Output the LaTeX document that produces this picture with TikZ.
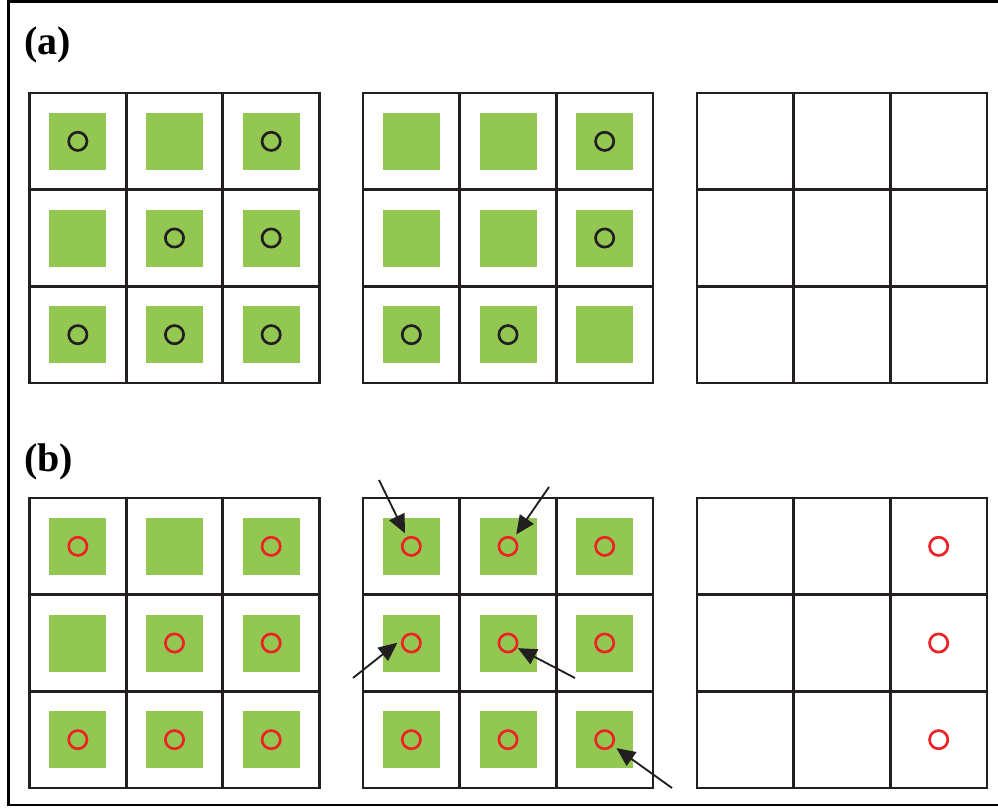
\documentclass[tikz,border=0pt]{standalone}
\usepackage{fontspec}
\setmainfont{Liberation Serif}
\usetikzlibrary{arrows.meta}
\definecolor{Leaf}{HTML}{92C852}
\definecolor{Mark}{HTML}{EC2227}
\definecolor{Ink}{HTML}{231F20}

\begin{document}
\begin{tikzpicture}[x=0.75pt,y=-0.75pt,
    cellline/.style={Ink,line width=2.2pt,line cap=rect},
    site/.style={fill=Leaf,minimum size=42.75pt,inner sep=0pt},
    ring/.style={circle,draw=#1,line width=2pt,minimum size=13.7pt,inner sep=0pt},
    ring/.default=Ink,
    pointer/.style={-{Triangle[length=14pt,width=12.5pt]},Ink,line width=1.4pt,shorten >=3pt},
    tag/.style={anchor=west,inner sep=0pt,font=\bfseries\fontsize{30}{36}\selectfont}]
  \useasboundingbox (0,0) rectangle (998,807);
  \draw[line width=1.6pt] (1010,1.5) -- (8.5,1.5) -- (8.5,805) -- (1010,805);

  \node[tag] (la) at (24,45) {(a)};
  \node[tag] (lb) at (24,462) {(b)};

  % the six 3x3 grids
  \foreach \gx/\gy in {29.5/93,363/93,697/93,29.5/498,363/498,697/498}{
    \foreach \k in {0,...,3}{
      \draw[cellline] (\gx+\k*96.67,\gy) -- (\gx+\k*96.67,\gy+290);
      \draw[cellline] (\gx,\gy+\k*96.67) -- (\gx+290,\gy+\k*96.67);
    }
  }

  % (a)
  \begin{scope}[shift={(29.5,93)}]
    \foreach \i in {0,1,2} \foreach \j in {0,1,2}
      \node[site] (a1-\i\j) at (\i*96.67+48.33,\j*96.67+48.33) {};
    \foreach \i/\j in {0/0,2/0,1/1,2/1,0/2,1/2,2/2}
      \node[ring] (a1r-\i\j) at (a1-\i\j) {};
  \end{scope}
  \begin{scope}[shift={(363,93)}]
    \foreach \i in {0,1,2} \foreach \j in {0,1,2}
      \node[site] (a2-\i\j) at (\i*96.67+48.33,\j*96.67+48.33) {};
    \foreach \i/\j in {2/0,2/1,0/2,1/2}
      \node[ring] (a2r-\i\j) at (a2-\i\j) {};
  \end{scope}

  % (b)
  \begin{scope}[shift={(29.5,498)}]
    \foreach \i in {0,1,2} \foreach \j in {0,1,2}
      \node[site] (b1-\i\j) at (\i*96.67+48.33,\j*96.67+48.33) {};
    \foreach \i/\j in {0/0,2/0,1/1,2/1,0/2,1/2,2/2}
      \node[ring=Mark] (b1r-\i\j) at (b1-\i\j) {};
  \end{scope}
  \begin{scope}[shift={(363,498)}]
    \foreach \i in {0,1,2} \foreach \j in {0,1,2}
      \node[site] (b2-\i\j) at (\i*96.67+48.33,\j*96.67+48.33) {};
    \foreach \i in {0,1,2} \foreach \j in {0,1,2}
      \node[ring=Mark] (b2r-\i\j) at (b2-\i\j) {};
  \end{scope}
  \begin{scope}[shift={(697,498)}]
    \foreach \j in {0,1,2}
      \node[ring=Mark] (b3r-2\j) at (2*96.67+48.33,\j*96.67+48.33) {};
  \end{scope}

  \coordinate (s1) at (379,480);
  \coordinate (s2) at (549,487);
  \coordinate (s3) at (353,678);
  \coordinate (s4) at (575,678);
  \coordinate (s5) at (672,788);
  \draw[pointer] (s1) -- (b2r-00);
  \draw[pointer] (s2) -- (b2r-10);
  \draw[pointer,shorten >=4pt] (s3) -- (b2r-01.160);
  \draw[pointer,shorten >=0.5pt] (s4) -- (b2r-11);
  \draw[pointer] (s5) -- (b2r-22);
\end{tikzpicture}
\end{document}
